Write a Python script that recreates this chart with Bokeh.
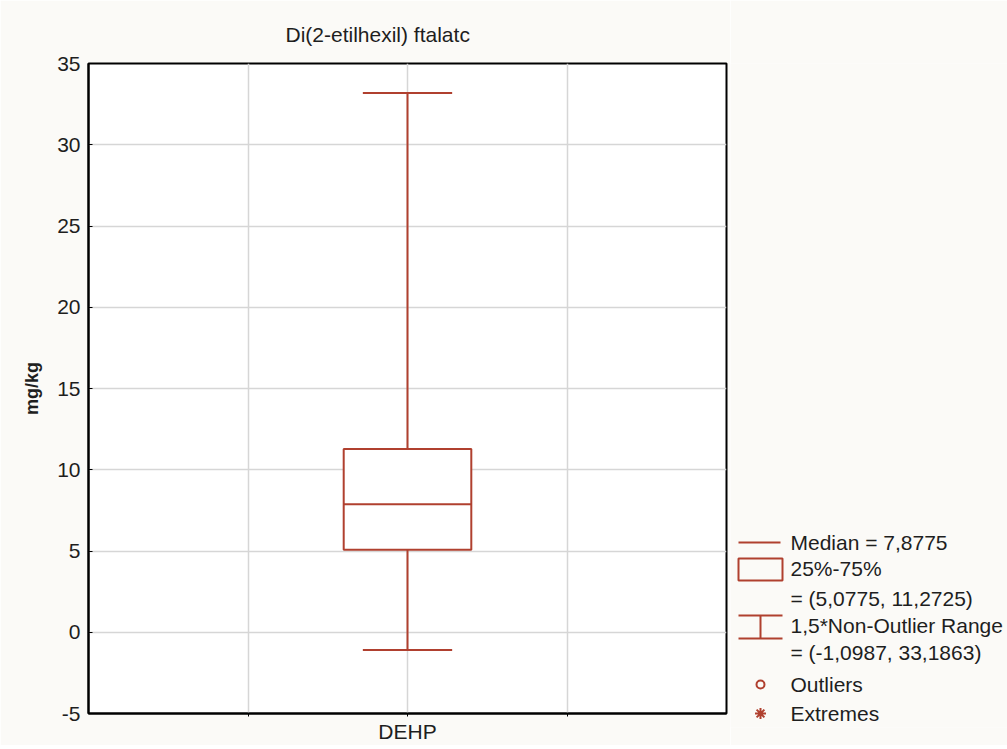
from bokeh.plotting import figure
from bokeh.layouts import row
from bokeh.models import Range1d, FixedTicker, LabelSet, ColumnDataSource
from bokeh.core.properties import value
from bokeh.embed import file_html
from bokeh.resources import INLINE

# ---- data ----
categories = ["DEHP"]
medians = [7.8775]
q1 = [5.0775]
q3 = [11.2725]
lower = [-1.0987]
upper = [33.1863]
y_ticks = [-5, 0, 5, 10, 15, 20, 25, 30, 35]
title_text = "Di(2-etilhexil) ftalatc"
y_label = "mg/kg"

# ---- styles ----
RED = "#b0402f"
BG = "#fbfaf7"
GRID = "#d6d6d6"
TXT = "#1e1e1e"
FONT = "Liberation Sans"

FRAME_TOP, FRAME_H, FRAME_BOTTOM_PAD = 63, 650, 32
LEG_EXTRA = 14  # legend panel frame extends a bit lower than the plot frame

xs = [2 * (i + 1) for i in range(len(categories))]  # category centers on 0..4 range

p = figure(frame_width=638, frame_height=FRAME_H,
           x_range=Range1d(0, 4), y_range=Range1d(-5, 35),
           output_backend="svg", toolbar_location=None,
           min_border_left=88, min_border_top=FRAME_TOP, min_border_right=4,
           min_border_bottom=FRAME_BOTTOM_PAD,
           background_fill_color="white", border_fill_color=BG,
           outline_line_color="black", outline_line_width=2)

p.title.text = title_text
p.title.align = "left"
p.title.offset = 197
p.title.standoff = 36
p.title.text_font = FONT
p.title.text_font_size = "21px"
p.title.text_font_style = "normal"
p.title.text_color = TXT

# axes
p.xaxis.ticker = FixedTicker(ticks=[1, 2, 3])
p.xaxis.major_label_overrides = {1: "", 2: categories[0], 3: ""}
p.xaxis.major_tick_out = 3
p.xaxis.major_tick_in = 0
p.xaxis.minor_tick_line_color = None
p.xaxis.axis_line_width = 2
p.xaxis.major_label_text_font = FONT
p.xaxis.major_label_text_font_size = "21px"
p.xaxis.major_label_text_color = TXT
p.xaxis.major_label_standoff = 3

p.yaxis.ticker = FixedTicker(ticks=y_ticks)
p.yaxis.major_label_overrides = {t: str(t) for t in y_ticks}
p.yaxis.major_tick_in = 4
p.yaxis.major_tick_out = 0
p.yaxis.minor_tick_line_color = None
p.yaxis.axis_line_width = 2
p.yaxis.major_label_text_font = FONT
p.yaxis.major_label_text_font_size = "21px"
p.yaxis.major_label_text_color = TXT
p.yaxis.major_label_standoff = 8
p.yaxis.axis_label = y_label
p.yaxis.axis_label_text_font = FONT
p.yaxis.axis_label_text_font_size = "18px"
p.yaxis.axis_label_text_font_style = "bold"
p.yaxis.axis_label_text_color = TXT
p.yaxis.axis_label_standoff = 12

p.xgrid.ticker = FixedTicker(ticks=[1, 2, 3])
p.ygrid.ticker = FixedTicker(ticks=y_ticks)
for g in (p.xgrid, p.ygrid):
    g.grid_line_color = GRID
    g.grid_line_width = 1.5

# box plot
BOX_HALF = 0.4
CAP_HALF = 0.28
p.segment(x0=xs, y0=q3, x1=xs, y1=upper, line_color=RED, line_width=2)
p.segment(x0=xs, y0=q1, x1=xs, y1=lower, line_color=RED, line_width=2)
p.segment(x0=[x - CAP_HALF for x in xs], y0=upper, x1=[x + CAP_HALF for x in xs], y1=upper,
          line_color=RED, line_width=2)
p.segment(x0=[x - CAP_HALF for x in xs], y0=lower, x1=[x + CAP_HALF for x in xs], y1=lower,
          line_color=RED, line_width=2)
p.quad(left=[x - BOX_HALF for x in xs], right=[x + BOX_HALF for x in xs], bottom=q1, top=q3,
       fill_color="white", line_color=RED, line_width=2)
p.segment(x0=[x - BOX_HALF for x in xs], y0=medians, x1=[x + BOX_HALF for x in xs], y1=medians,
          line_color=RED, line_width=2)

# ---- legend panel (units = page pixels) ----
LW = 277
LEG_H = FRAME_H + LEG_EXTRA
lf = figure(frame_width=LW, frame_height=LEG_H,
            x_range=Range1d(0, LW),
            y_range=Range1d(FRAME_TOP + LEG_H, FRAME_TOP),
            output_backend="svg", toolbar_location=None,
            x_axis_type=None, y_axis_type=None,
            min_border_left=0, min_border_right=0,
            min_border_top=FRAME_TOP, min_border_bottom=FRAME_BOTTOM_PAD - LEG_EXTRA,
            background_fill_color=BG, border_fill_color=BG, outline_line_color=None)
lf.xgrid.visible = False
lf.ygrid.visible = False


def fmt(v):
    return f"{v:.4f}".replace(".", ",")


TX = 60
lf.segment(x0=[8], y0=[542], x1=[50], y1=[542], line_color=RED, line_width=2)
lf.quad(left=[8], right=[52], top=[558], bottom=[580], fill_color=None, line_color=RED, line_width=2)
lf.segment(x0=[8, 8, 30], y0=[615, 638, 615], x1=[52, 52, 30], y1=[615, 638, 638],
           line_color=RED, line_width=2)
lf.scatter(x=[30], y=[684], marker="circle", size=8, fill_color=None, line_color=RED, line_width=2)
lf.scatter(x=[30], y=[713], marker="asterisk", size=11, line_color=RED, line_width=2)

legend_texts = [
    f"Median = {fmt(medians[0])}",
    "25%-75%",
    f"= ({fmt(q1[0])}, {fmt(q3[0])})",
    "1,5*Non-Outlier Range",
    f"= ({fmt(lower[0])}, {fmt(upper[0])})",
    "Outliers",
    "Extremes",
]
legend_y = [542, 568, 598, 625, 652, 684, 713]
src = ColumnDataSource(dict(x=[TX] * len(legend_texts), y=legend_y, text=legend_texts))
lf.add_layout(LabelSet(x="x", y="y", text="text", source=src,
                       text_font=value(FONT), text_font_size=value("21px"),
                       text_color=value(TXT),
                       text_baseline="middle", text_align="left"))

layout = row(p, lf)
open("out.html", "w").write(file_html(layout, INLINE))
